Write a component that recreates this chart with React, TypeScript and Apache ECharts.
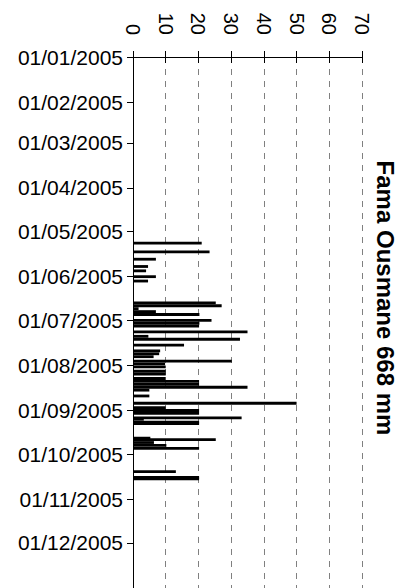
import React, { useEffect, useRef } from "react";
import * as echarts from "echarts";

// Rainfall records (day, mm)
const rainDates: string[] = [
  "2005-05-09", "2005-05-15", "2005-05-20", "2005-05-25", "2005-05-28",
  "2005-06-01", "2005-06-04", "2005-06-19", "2005-06-21", "2005-06-23",
  "2005-06-25", "2005-06-27", "2005-07-01", "2005-07-03", "2005-07-05",
  "2005-07-09", "2005-07-12", "2005-07-14", "2005-07-18", "2005-07-22",
  "2005-07-24", "2005-07-26", "2005-07-29", "2005-07-31", "2005-08-02",
  "2005-08-05", "2005-08-07", "2005-08-10", "2005-08-12", "2005-08-14",
  "2005-08-16", "2005-08-18", "2005-08-22", "2005-08-27", "2005-08-30",
  "2005-09-01", "2005-09-03", "2005-09-06", "2005-09-07", "2005-09-09",
  "2005-09-10", "2005-09-20", "2005-09-21", "2005-09-23", "2005-09-25",
  "2005-09-27", "2005-10-13", "2005-10-17", "2005-10-18",
];
const rainValues: number[] = [
  21, 23.4, 7, 4.6, 4,
  7, 4.6, 25.3, 27.1, 1.7,
  7, 20.3, 24, 20.3, 20.2,
  35, 4.7, 32.7, 15.6, 8.3,
  8, 6.3, 30.2, 9.8, 10,
  10, 10, 10, 20.2, 20.2,
  35, 5, 5, 50, 10,
  20.2, 20.2, 33.2, 3.3, 20.2,
  20.2, 5.3, 25.3, 6.4, 10.2,
  20.2, 13.1, 20.2, 20.2,
];
const monthTicks: string[] = [
  "2005-01-01", "2005-02-01", "2005-03-01", "2005-04-01", "2005-05-01", "2005-06-01",
  "2005-07-01", "2005-08-01", "2005-09-01", "2005-10-01", "2005-11-01", "2005-12-01",
];
const axisStart = "2005-01-01";
const axisEnd = "2006-01-01";
const xTicks: number[] = [0, 10, 20, 30, 40, 50, 60, 70];
const titleText = "Fama Ousmane 668 mm";

const DAY = 86400000;
const toTs = (s: string) => {
  const [y, m, d] = s.split("-").map(Number);
  return Date.UTC(y, m - 1, d);
};
const dayIndex = (s: string) => Math.round((toTs(s) - toTs(axisStart)) / DAY);
const pad = (n: number) => (n < 10 ? "0" + n : "" + n);

export default function App() {
  const ref = useRef<HTMLDivElement>(null);
  useEffect(() => {
    if (!ref.current) return;
    document.body.style.margin = "0";
    const chart = echarts.init(ref.current, undefined, { renderer: "svg" });
    const font = "Liberation Sans, Arial, sans-serif";
    const tickDays = monthTicks.map(dayIndex);
    chart.setOption({
      animation: false,
      backgroundColor: "#ffffff",
      grid: { left: 133, right: 50, top: 57, bottom: -3 },
      xAxis: [
        {
          type: "value",
          position: "top",
          min: xTicks[0],
          max: xTicks[xTicks.length - 1],
          interval: 10,
          axisLine: { show: true, lineStyle: { color: "#000", width: 1 } },
          axisTick: { show: true, length: 6, lineStyle: { color: "#000" } },
          axisLabel: {
            rotate: -90,
            margin: 22,
            color: "#000",
            fontSize: 20,
            fontFamily: font,
          },
          splitLine: {
            show: true,
            lineStyle: { color: "#808080", type: [6, 6], width: 1 },
          },
        },
        {
          type: "value",
          position: "top",
          min: xTicks[0],
          max: xTicks[xTicks.length - 1],
          interval: 10,
          axisLine: { show: false },
          axisTick: { show: true, inside: true, length: 6, lineStyle: { color: "#000" } },
          axisLabel: { show: false },
          splitLine: { show: false },
        },
      ],
      yAxis: {
        type: "value",
        inverse: true,
        min: 0,
        max: dayIndex(axisEnd),
        axisLine: { show: true, lineStyle: { color: "#000", width: 1 } },
        axisTick: {
          show: true,
          length: 6,
          customValues: tickDays,
          lineStyle: { color: "#000" },
        },
        axisLabel: {
          customValues: tickDays,
          color: "#000",
          fontSize: 21,
          fontFamily: font,
          margin: 10,
          formatter: (v: number) => {
            const d = new Date(toTs(axisStart) + v * DAY);
            return pad(d.getUTCDate()) + "/" + pad(d.getUTCMonth() + 1) + "/" + d.getUTCFullYear();
          },
        },
        splitLine: { show: false },
      },
      series: [
        {
          type: "custom",
          xAxisIndex: 0,
          yAxisIndex: 0,
          encode: { x: 0, y: 1 },
          data: rainDates.map((d, i) => [rainValues[i], dayIndex(d)]),
          renderItem: (params: any, api: any) => {
            const v = api.value(0);
            const day = api.value(1);
            const p0 = api.coord([0, day]);
            const p1 = api.coord([v, day]);
            const h = 2.8;
            return {
              type: "rect",
              shape: { x: p0[0], y: p0[1] - h / 2, width: p1[0] - p0[0], height: h },
              style: { fill: "#000" },
            };
          },
        },
      ],
      graphic: [
        {
          type: "text",
          x: 385,
          y: 298,
          rotation: -Math.PI / 2,
          style: {
            text: titleText,
            fill: "#000",
            font: "bold 24px " + font,
            textAlign: "center",
            textVerticalAlign: "middle",
          },
        },
      ],
    });
    return () => chart.dispose();
  }, []);
  return (
    <div
      ref={ref}
      style={{ position: "fixed", left: 0, top: 0, width: 412, height: 588 }}
    />
  );
}
